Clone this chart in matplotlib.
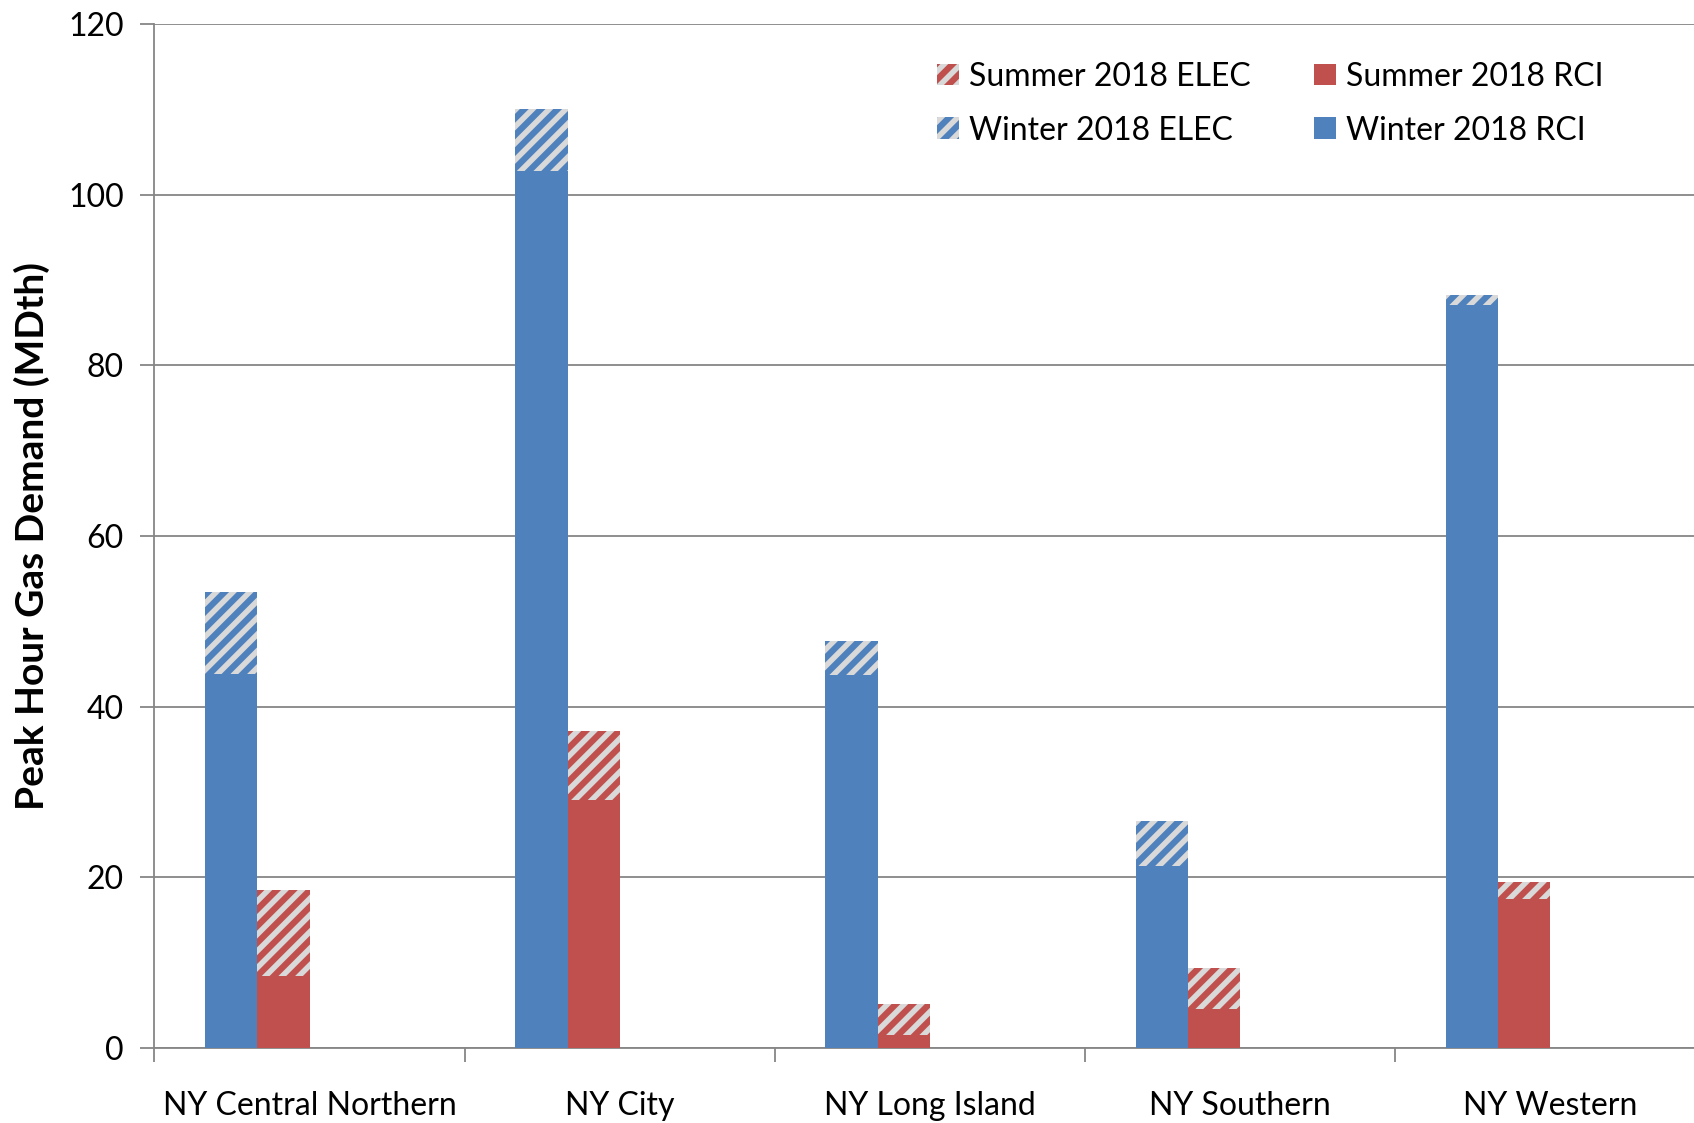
import matplotlib.pyplot as plt
import numpy as np

plt.rcParams['font.family'] = ['Lato', 'DejaVu Sans']
plt.rcParams['hatch.linewidth'] = 4.5

# Värden
regions = ["NY Central Northern", "NY City", "NY Long Island", "NY Southern", "NY Western"]
winter_rci = [43.8, 102.8, 43.7, 21.3, 87.1]
winter_elec = [9.6, 7.2, 4.0, 5.3, 1.1]
summer_rci = [8.4, 29.1, 1.5, 4.6, 17.5]
summer_elec = [10.1, 8.0, 3.7, 4.8, 1.9]

blue = '#4F81BD'
red = '#C0504D'
hatch_bg = '#D9D9D9'
grid_col = '#868686'

fig = plt.figure(figsize=(16.94, 11.23), dpi=100)
ax = fig.add_axes([0.0912, 0.0668, 0.9088, 0.912])

x = np.arange(len(regions))
w = 0.168

ax.bar(x - 1.5 * w, winter_rci, w, color=blue, linewidth=0, label='Winter 2018 RCI', zorder=3)
ax.bar(x - 1.5 * w, winter_elec, w, bottom=winter_rci, facecolor=hatch_bg, edgecolor=blue,
       hatch='//', linewidth=0, label='Winter 2018 ELEC', zorder=3)
ax.bar(x - 0.5 * w, summer_rci, w, color=red, linewidth=0, label='Summer 2018 RCI', zorder=3)
ax.bar(x - 0.5 * w, summer_elec, w, bottom=summer_rci, facecolor=hatch_bg, edgecolor=red,
       hatch='//', linewidth=0, label='Summer 2018 ELEC', zorder=3)

ax.set_yticks(np.arange(0, 121, 20))
ax.yaxis.grid(True, color=grid_col, linewidth=1.3, zorder=0)
ax.set_axisbelow(True)

ax.set_xticks(x)
ax.set_xticklabels(regions)
ax.set_xticks(np.arange(-0.5, 5, 1), minor=True)
# Sätter gränserna efter tickarna så att de inte utökas
ax.set_ylim(0, 120)
ax.set_xlim(-0.5, 4.465)
ax.tick_params(axis='x', which='major', length=0, pad=31, labelsize=23)
ax.tick_params(axis='x', which='minor', length=10, width=1.3, color=grid_col, direction='out')
ax.tick_params(axis='y', length=10, width=1.3, color=grid_col, pad=12, labelsize=23)

for s in ['top', 'right']:
    ax.spines[s].set_visible(False)
for s in ['left', 'bottom']:
    ax.spines[s].set_color(grid_col)
    ax.spines[s].set_linewidth(1.3)

ax.set_ylabel("Peak Hour Gas Demand (MDth)", fontsize=28, fontweight='bold', labelpad=13)

handles, labels = ax.get_legend_handles_labels()
order = [3, 1, 2, 0]
ax.legend([handles[i] for i in order], [labels[i] for i in order], ncol=2, frameon=False,
          loc='upper right', bbox_to_anchor=(0.941, 0.963), borderaxespad=0, borderpad=0,
          fontsize=23, handlelength=0.68, handleheight=0.68, handletextpad=0.3,
          columnspacing=2.0, labelspacing=0.75)

fig.savefig('out.png', dpi=100)
